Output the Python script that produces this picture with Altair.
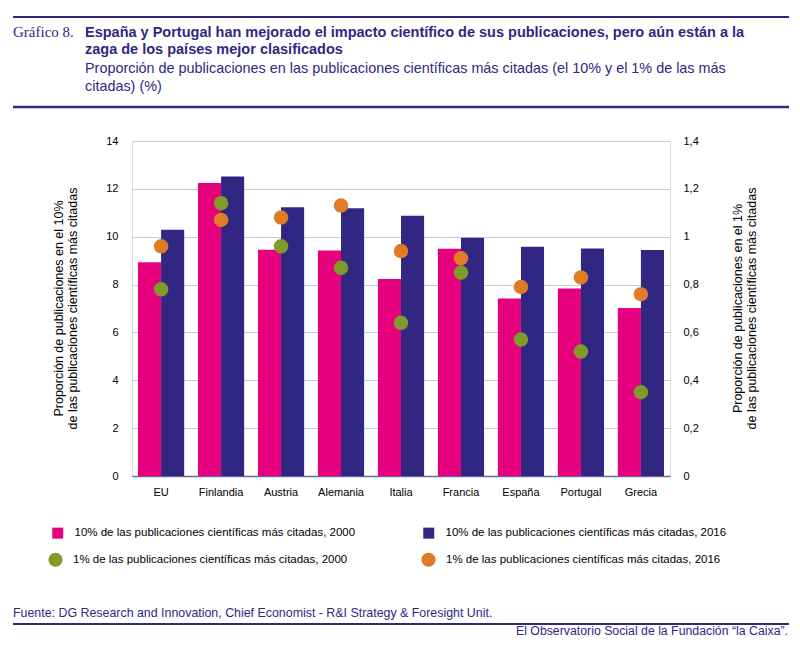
import pandas as pd
import altair as alt

# values
paises = ["EU", "Finlandia", "Austria", "Alemania", "Italia", "Francia", "España", "Portugal", "Grecia"]
top10_2000 = [8.93, 12.24, 9.46, 9.42, 8.23, 9.50, 7.42, 7.84, 7.02]
top10_2016 = [10.29, 12.52, 11.23, 11.19, 10.88, 9.96, 9.58, 9.51, 9.44]
top1_2000 = [0.78, 1.14, 0.96, 0.87, 0.64, 0.85, 0.57, 0.52, 0.35]
top1_2016 = [0.96, 1.07, 1.08, 1.13, 0.94, 0.91, 0.79, 0.83, 0.76]

s1 = "10% de las publicaciones científicas más citadas, 2000"
s2 = "10% de las publicaciones científicas más citadas, 2016"
s3 = "1% de las publicaciones científicas más citadas, 2000"
s4 = "1% de las publicaciones científicas más citadas, 2016"

PINK, NAVY, GREEN, ORANGE = "#e5007d", "#312783", "#829a29", "#e07b26"
GRID = "#cac6de"
FONT = "Liberation Sans"

bars_df = pd.concat([
    pd.DataFrame({"pais": paises, "serie": s1, "valor": top10_2000}),
    pd.DataFrame({"pais": paises, "serie": s2, "valor": top10_2016}),
])
# 2016 first so the green dots sit on top
dots_df = pd.concat([
    pd.DataFrame({"pais": paises, "serie": s4, "valor": top1_2016}),
    pd.DataFrame({"pais": paises, "serie": s3, "valor": top1_2000}),
])

comma = "replace(format(datum.value, '.1~f'), '.', ',')"

bars = alt.Chart(bars_df).mark_bar().encode(
    x=alt.X("pais:N", sort=paises, title=None,
            scale=alt.Scale(paddingInner=0.23, paddingOuter=0.1),
            axis=alt.Axis(labelAngle=0, ticks=False, labelPadding=10, domainColor="#6b66a6",
                          domainWidth=1.5, labelFont=FONT, labelFontSize=11, labelColor="#000")),
    xOffset=alt.XOffset("serie:N", sort=[s1, s2]),
    y=alt.Y("valor:Q", scale=alt.Scale(domain=[0, 14]),
            axis=alt.Axis(values=list(range(0, 15, 2)), ticks=False, domain=False, labelPadding=14,
                          gridColor=GRID, labelFont=FONT, labelFontSize=11, labelColor="#000",
                          title=["Proporción de publicaciones en el 10%",
                                 "de las publicaciones científicas más citadas"],
                          titleAngle=270, titleX=-74, titleY=167, titleAlign="center",
                          titleBaseline="middle", titleFont=FONT, titleFontSize=12.5,
                          titleFontWeight="normal", titleColor="#000", titleLineHeight=14)),
    color=alt.Color("serie:N", scale=alt.Scale(domain=[s1, s2], range=[PINK, NAVY]),
                    legend=alt.Legend(title=None, orient="none", legendX=-80, legendY=386,
                                      direction="horizontal", symbolType="square", symbolSize=121,
                                      symbolStrokeWidth=0, labelOffset=11, columnPadding=67,
                                      labelLimit=0, labelFont=FONT, labelFontSize=11.5,
                                      labelColor="#000")),
)

dots = alt.Chart(dots_df).mark_circle(size=210, opacity=1).encode(
    x=alt.X("pais:N", sort=paises),
    y=alt.Y("valor:Q", scale=alt.Scale(domain=[0, 1.4]),
            axis=alt.Axis(orient="right", values=[0, 0.2, 0.4, 0.6, 0.8, 1, 1.2, 1.4], labelExpr=comma,
                          ticks=False, domain=False, grid=False, labelPadding=13,
                          labelFont=FONT, labelFontSize=11, labelColor="#000",
                          title=["Proporción de publicaciones en el 1%",
                                 "de las publicaciones científicas más citadas"],
                          titleAngle=270, titleX=67, titleY=167, titleAlign="center",
                          titleBaseline="middle", titleFont=FONT, titleFontSize=12.5,
                          titleFontWeight="normal", titleColor="#000", titleLineHeight=14)),
    color=alt.Color("serie:N", scale=alt.Scale(domain=[s3, s4], range=[GREEN, ORANGE]),
                    legend=alt.Legend(title=None, orient="none", legendX=-84, legendY=411,
                                      direction="horizontal", symbolType="circle", symbolSize=200,
                                      symbolStrokeWidth=0, labelOffset=10, columnPadding=73,
                                      labelLimit=0, labelFont=FONT, labelFontSize=11.5,
                                      labelColor="#000")),
)

one = alt.Data(values=[{}])


def rule(y, width=2):
    return alt.Chart(one).mark_rule(color=NAVY, strokeWidth=width).encode(
        x=alt.value(-119), x2=alt.value(657), y=alt.value(y))


def label(text, x, y, **kw):
    style = dict(font=FONT, fontSize=14, color=NAVY, align="left", baseline="alphabetic")
    style.update(kw)
    return alt.Chart(one).mark_text(text=text, **style).encode(x=alt.value(x), y=alt.value(y))


header = [
    rule(-124),
    rule(-34, 2.5),
    label("Gráfico 8.", -119, -104, font="Liberation Serif", fontSize=15),
    label(["España y Portugal han mejorado el impacto científico de sus publicaciones, pero aún están a la",
           "zaga de los países mejor clasificados"], -47, -104, fontSize=14.5, fontWeight="bold",
          lineHeight=17),
    label(["Proporción de publicaciones en las publicaciones científicas más citadas (el 10% y el 1% de las más",
           "citadas) (%)"], -47, -68, fontSize=14.4, lineHeight=18),
    label("Fuente: DG Research and Innovation, Chief Economist - R&I Strategy & Foresight Unit.",
          -119, 476, fontSize=12.4),
    rule(483),
    label("El Observatorio Social de la Fundación “la Caixa”.", 656, 494, fontSize=12.3,
          align="right"),
]

chart = alt.layer(bars, dots, *header).resolve_scale(
    y="independent", color="independent"
).properties(
    width=538, height=335, autosize=alt.AutoSizeParams(type="none"),
    padding={"left": 124, "top": 133, "right": 122, "bottom": 166},
).configure_view(stroke=None).configure(background="white")

chart.save("out.html", embed_options={"renderer": "svg", "actions": False})
